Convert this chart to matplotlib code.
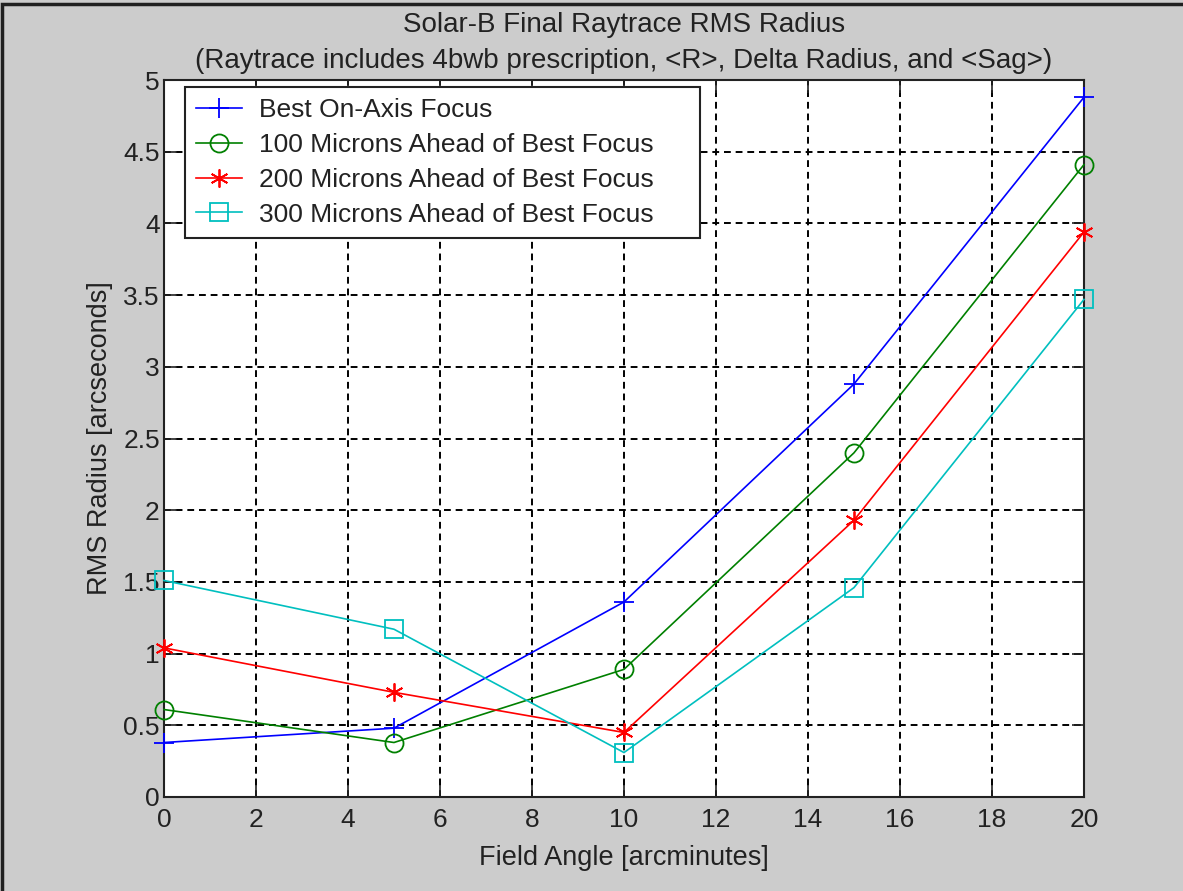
import numpy as np
import matplotlib
matplotlib.use("Agg")
import matplotlib.pyplot as plt
from matplotlib.patches import Rectangle

plt.rcParams['font.family'] = ['Liberation Sans', 'DejaVu Sans']

field_angle = [0, 5, 10, 15, 20]
best_focus = [0.38, 0.48, 1.36, 2.88, 4.88]
ahead_100 = [0.61, 0.38, 0.89, 2.40, 4.41]
ahead_200 = [1.04, 0.73, 0.45, 1.93, 3.94]
ahead_300 = [1.51, 1.17, 0.31, 1.46, 3.47]

labels = ['Best On-Axis Focus',
          '100 Microns Ahead of Best Focus',
          '200 Microns Ahead of Best Focus',
          '300 Microns Ahead of Best Focus']

txt = '#222222'

fig = plt.figure(figsize=(11.83, 8.91), dpi=100, facecolor='#cccccc')
# dark border along the top and left edge
fig.add_artist(Rectangle((0.002, -0.01), 1.1, 1.006, transform=fig.transFigure,
                         fill=False, edgecolor='#202020', linewidth=2.5))
ax = fig.add_axes([0.1386, 0.1055, 0.7777, 0.8047])
ax.set_facecolor('white')

kw = dict(linewidth=1.2, markeredgewidth=1.3, clip_on=False, zorder=3)
ax.plot(field_angle, best_focus, color='#0000ff', marker='+', markersize=15,
        label=labels[0], **kw)
ax.plot(field_angle, ahead_100, color='#008000', marker='o', markersize=13,
        markerfacecolor='none', label=labels[1], **kw)
ax.plot(field_angle, ahead_200, color='#ff0000', marker=(6, 2, 0), markersize=13,
        label=labels[2], **kw)
ax.plot(field_angle, ahead_300, color='#00bfbf', marker='s', markersize=13,
        markerfacecolor='none', label=labels[3], **kw)

ax.set_xlim(0, 20)
ax.set_ylim(0, 5)
ax.set_xticks(np.arange(0, 21, 2))
ax.set_yticks(np.arange(0, 5.01, 0.5))
ax.set_yticklabels(['0', '0.5', '1', '1.5', '2', '2.5', '3', '3.5', '4', '4.5', '5'])
ax.grid(True, color='black', linestyle=(0, (3.5, 2.5)), linewidth=1.4)
ax.tick_params(direction='in', top=True, right=True, length=9, width=1.2,
               labelsize=19, colors=txt)
ax.tick_params(axis='x', pad=8)
ax.tick_params(axis='y', pad=3)
for sp in ax.spines.values():
    sp.set_linewidth(1.5)
    sp.set_color(txt)

ax.set_xlabel('Field Angle [arcminutes]', fontsize=19.5, color=txt, labelpad=9)
ax.set_ylabel('RMS Radius [arcseconds]', fontsize=19.5, color=txt, labelpad=7)
ax.set_title('Solar-B Final Raytrace RMS Radius\n'
             '(Raytrace includes 4bwb prescription, <R>, Delta Radius, and <Sag>)',
             fontsize=20, color=txt, pad=9, linespacing=1.5)

# fixed-width legend box like the MATLAB one
leg = ax.legend(loc='upper left', bbox_to_anchor=(0.0228, 0.5, 0.56, 0.49),
                mode='expand', fontsize=19,
                fancybox=False, edgecolor=txt, framealpha=1,
                handlelength=1.75, borderpad=0.42, labelspacing=0.41,
                handletextpad=0.65, borderaxespad=0)
leg.get_frame().set_linewidth(1.5)
for t in leg.get_texts():
    t.set_color(txt)

fig.savefig('out.png', dpi=100, facecolor=fig.get_facecolor())
